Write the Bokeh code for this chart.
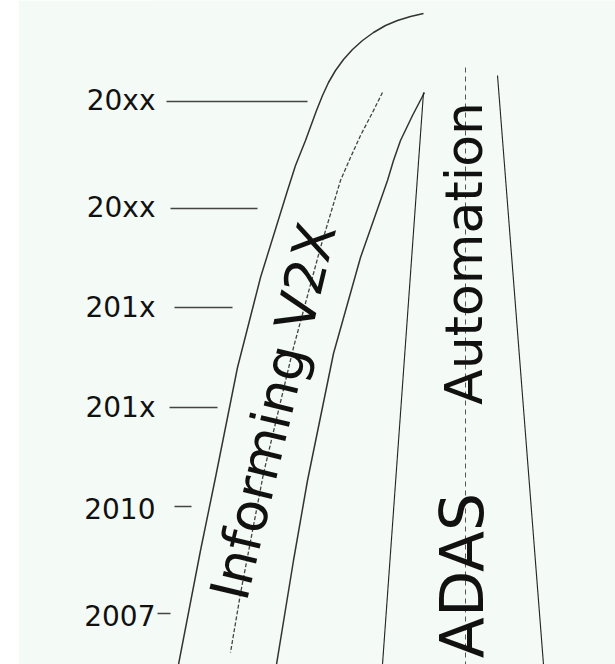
from bokeh.plotting import figure
from bokeh.layouts import row
from bokeh.models import Range1d, FixedTicker, Spacer
from bokeh.embed import file_html
from bokeh.resources import INLINE
from bokeh.core.properties import value

# ---- data (diagram coordinates, y grows downward) ----
tick_labels = ["20xx", "20xx", "201x", "201x", "2010", "2007"]
tick_pos = [100, 207, 307, 407, 509, 616]

guide_y = [101, 208, 307, 407, 506, 613]
guide_x0 = [166, 170, 174, 169, 174, 157]
guide_x1 = [307, 257, 232, 217, 191, 170]

outer_x = [423, 410, 397, 385, 373, 362, 352, 343, 335, 328, 322, 316, 305, 295, 287, 260, 237, 215, 200, 178]
outer_y = [13, 16, 20, 25, 32, 40, 49, 59, 70, 82, 95, 110, 140, 165, 190, 277, 367, 477, 550, 664]

middle_x = [382, 372, 360, 350, 340, 320, 293, 263, 240, 230]
middle_y = [92, 112, 135, 157, 180, 247, 347, 473, 593, 652]

inner_x = [424, 412, 400, 393, 387, 360, 333, 307, 293, 276]
inner_y = [92, 115, 140, 160, 180, 257, 353, 480, 560, 664]

right_left_x = [423, 382]
right_left_y = [92, 664]
right_right_x = [497, 543]
right_right_y = [75, 664]
center_x = [465, 465]
center_y = [67, 664]

labels = ["Informing V2X", "Automation", "ADAS"]
label_x = [273, 463, 461]
label_y = [411, 253, 575]
label_angle = [76.5, 90, 90]
label_size = ["54px", "52px", "60px"]

BG = "#f4faf5"
FONT = "DejaVu Sans"

p = figure(width=597, height=664, output_backend="svg", toolbar_location=None,
           x_range=Range1d(150, 615), y_range=Range1d(664, 0),
           x_axis_location=None, min_border_left=132, min_border_right=0,
           min_border_top=0, min_border_bottom=0)
p.background_fill_color = BG
p.border_fill_color = BG
p.outline_line_color = None
p.xgrid.visible = False
p.ygrid.visible = False

ax = p.yaxis[0]
ax.ticker = FixedTicker(ticks=tick_pos)
ax.major_label_overrides = {t: l for t, l in zip(tick_pos, tick_labels)}
ax.axis_line_color = None
ax.major_tick_line_color = None
ax.minor_tick_line_color = None
ax.major_label_standoff = -11
ax.major_label_text_font = FONT
ax.major_label_text_font_size = "28px"
ax.major_label_text_color = "#111111"

p.segment(x0=guide_x0, y0=guide_y, x1=guide_x1, y1=guide_y, line_color="#444444", line_width=1.3)

p.line(outer_x, outer_y, line_color="#333333", line_width=1.5)
p.line(middle_x, middle_y, line_color="#444444", line_width=1.3, line_dash="4 2")
p.line(inner_x, inner_y, line_color="#333333", line_width=1.5)

p.line(right_left_x, right_left_y, line_color="#222222", line_width=1.1)
p.line(right_right_x, right_right_y, line_color="#222222", line_width=1.1)
p.line(center_x, center_y, line_color="#555555", line_width=1, line_dash="5 4")

for t, x, y, a, s in zip(labels, label_x, label_y, label_angle, label_size):
    p.text(x=[x], y=[y], text=[t], angle=a, angle_units="deg",
           text_font=value(FONT), text_font_size=s, text_color="#111111",
           text_align="center", text_baseline="middle")

layout = row(Spacer(width=18, height=664), p)
open("out.html", "w").write(file_html(layout, INLINE))
